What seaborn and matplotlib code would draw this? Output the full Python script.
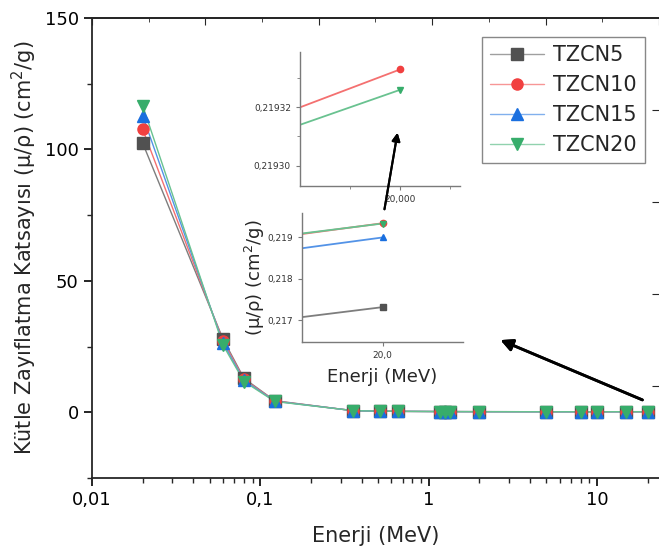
import seaborn as sns
import matplotlib.pyplot as plt
import matplotlib.ticker as mticker
from matplotlib.colors import to_rgb
from matplotlib.lines import Line2D
import pandas as pd

# energies (MeV) and mass attenuation coefficients (cm2/g)
energy = [0.02, 0.06, 0.08, 0.122, 0.356, 0.511, 0.662, 1.173, 1.25, 1.333,
          2, 5, 8, 10, 15, 20]
tzcn5 = [102.4, 27.9, 12.9, 4.4, 0.60, 0.40, 0.34, 0.27, 0.26, 0.255,
         0.23, 0.205, 0.205, 0.208, 0.21701, 0.21731]
tzcn10 = [107.7, 27.2, 12.5, 4.3, 0.61, 0.41, 0.345, 0.272, 0.262, 0.257,
          0.232, 0.207, 0.207, 0.210, 0.219008, 0.219333]
tzcn15 = [112.8, 26.4, 12.1, 4.2, 0.62, 0.42, 0.35, 0.274, 0.264, 0.259,
          0.233, 0.207, 0.207, 0.210, 0.218665, 0.21899]
tzcn20 = [116.7, 25.6, 11.7, 4.1, 0.63, 0.43, 0.355, 0.276, 0.266, 0.261,
          0.234, 0.208, 0.208, 0.211, 0.219026, 0.219326]

names = ["TZCN5", "TZCN10", "TZCN15", "TZCN20"]
colors = ["#515151", "#F14040", "#1A6FDF", "#37AD6B"]
markers = ["s", "o", "^", "v"]

df = pd.concat([pd.DataFrame({"E": energy, "mu": v, "sample": n})
                for n, v in zip(names, [tzcn5, tzcn10, tzcn15, tzcn20])],
               ignore_index=True)

sns.set_style("ticks")
plt.rcParams["font.family"] = ["DejaVu Sans"]
plt.rcParams["axes.linewidth"] = 1.3


def light(c, f=0.45):
    r, g, b = to_rgb(c)
    return (r + (1 - r) * f, g + (1 - g) * f, b + (1 - b) * f)


fig = plt.figure(figsize=(6.59, 5.58), dpi=100)
ax = fig.add_axes([0.1396, 0.1434, 0.8604, 0.8244])


def draw(a, ms, lw):
    for n, c, m in zip(names, colors, markers):
        d = df[df["sample"] == n]
        sns.lineplot(data=d, x="E", y="mu", color=light(c, 0.25), lw=lw,
                     ax=a, legend=False, sort=True)
        a.plot(d["E"], d["mu"], ls="none", marker=m, ms=ms, color=c,
               mec=c, zorder=3)
    a.set_xlabel("")
    a.set_ylabel("")


draw(ax, 8, 1.0)
ax.set_xscale("log")
ax.set_xlim(0.01, 23.4)
ax.set_ylim(-25, 150)
ax.set_yticks([0, 50, 100, 150])
ax.yaxis.set_minor_locator(mticker.MultipleLocator(25))
ax.xaxis.set_major_formatter(mticker.FuncFormatter(
    lambda v, p: ("%g" % v).replace(".", ",")))
ax.tick_params(which="major", direction="out", length=6, width=1.2,
               labelsize=13, colors="black")
ax.tick_params(which="minor", direction="out", length=3.5, width=1.0)
ax.set_xlabel("Enerji (MeV)", fontsize=15, labelpad=12)
ax.set_ylabel("Kütle Zayıflatma Katsayısı (μ/ρ) (cm$^2$/g)", fontsize=15,
              labelpad=4)
ax.spines["right"].set_visible(False)

# top linear ticks and right ticks of the other layer
top = ax.twiny()
top.set_xlim(0, 1)
top.set_xticks([0, 0.2, 0.4, 0.6, 0.8, 1.0])
top.xaxis.set_minor_locator(mticker.MultipleLocator(0.1))
top.tick_params(axis="x", which="major", direction="in", length=5,
                labeltop=False)
top.tick_params(axis="x", which="minor", direction="in", length=3)
right = ax.twinx()
right.set_ylim(0, 1)
right.set_yticks([0.2, 0.4, 0.6, 0.8])
right.tick_params(axis="y", direction="in", length=5, labelright=False)
for s in ["right", "left", "bottom"]:
    top.spines[s].set_visible(False)
    right.spines[s].set_visible(False)
right.spines["top"].set_visible(False)

handles = [Line2D([], [], color=light(c), marker=m, ms=8, lw=1,
                  markerfacecolor=c, markeredgecolor=c)
           for c, m in zip(colors, markers)]
leg = fig.legend(handles, names, loc="upper left",
                 bbox_to_anchor=(0.731, 0.934), fontsize=15,
                 fancybox=False, edgecolor="#888888", framealpha=1,
                 handlelength=2.6, borderpad=0.4, labelspacing=0.48,
                 handletextpad=0.4, borderaxespad=0)
leg.get_frame().set_linewidth(1.0)

# inset 1: zoom at 20 MeV
in1 = fig.add_axes([0.4552, 0.6667, 0.2428, 0.2401])
draw(in1, 4.5, 1.3)
in1.set_xlim(19.8, 20.12)
in1.set_ylim(0.219293, 0.219339)
in1.set_xticks([20])
in1.set_xticklabels(["20,000"])
in1.xaxis.set_minor_locator(mticker.FixedLocator([19.9, 20.1]))
in1.set_yticks([0.21930, 0.21932])
in1.set_yticklabels(["0,21930", "0,21932"])
in1.yaxis.set_minor_locator(mticker.FixedLocator([0.21931, 0.21933]))

# inset 2: 15-20 MeV region
in2 = fig.add_axes([0.4583, 0.3871, 0.2443, 0.2312])
draw(in2, 4.5, 1.3)
in2.set_xlim(16, 24)
in2.set_ylim(0.21647, 0.21958)
in2.set_xticks([20])
in2.set_xticklabels(["20,0"])
in2.set_yticks([0.217, 0.218, 0.219])
in2.set_yticklabels(["0,217", "0,218", "0,219"])
in2.set_xlabel("Enerji (MeV)", fontsize=13, labelpad=6)
in2.set_ylabel("(μ/ρ) (cm$^2$/g)", fontsize=13, labelpad=0)

for a in (in1, in2):
    a.patch.set_alpha(0)
    for s in ["top", "right"]:
        a.spines[s].set_visible(False)
    for s in ["left", "bottom"]:
        a.spines[s].set_color("#7a7a7a")
        a.spines[s].set_linewidth(1.0)
    a.tick_params(which="major", direction="out", length=3, width=0.8,
                  labelsize=6.5, color="#7a7a7a", labelcolor="#333333")
    a.tick_params(which="minor", direction="out", length=2, width=0.6,
                  color="#7a7a7a")

# arrows
fig.add_artist(plt.annotate("", xy=(498 / 659, 1 - 339 / 558),
                            xytext=(645 / 659, 1 - 401 / 558),
                            xycoords="figure fraction",
                            textcoords="figure fraction",
                            arrowprops=dict(arrowstyle="-|>", color="black",
                                            lw=2, mutation_scale=18)))
fig.add_artist(plt.annotate("", xy=(398 / 659, 1 - 130 / 558),
                            xytext=(384 / 659, 1 - 212 / 558),
                            xycoords="figure fraction",
                            textcoords="figure fraction",
                            arrowprops=dict(arrowstyle="-|>", color="black",
                                            lw=1.5, mutation_scale=12)))

fig.savefig("out.png", dpi=100)
